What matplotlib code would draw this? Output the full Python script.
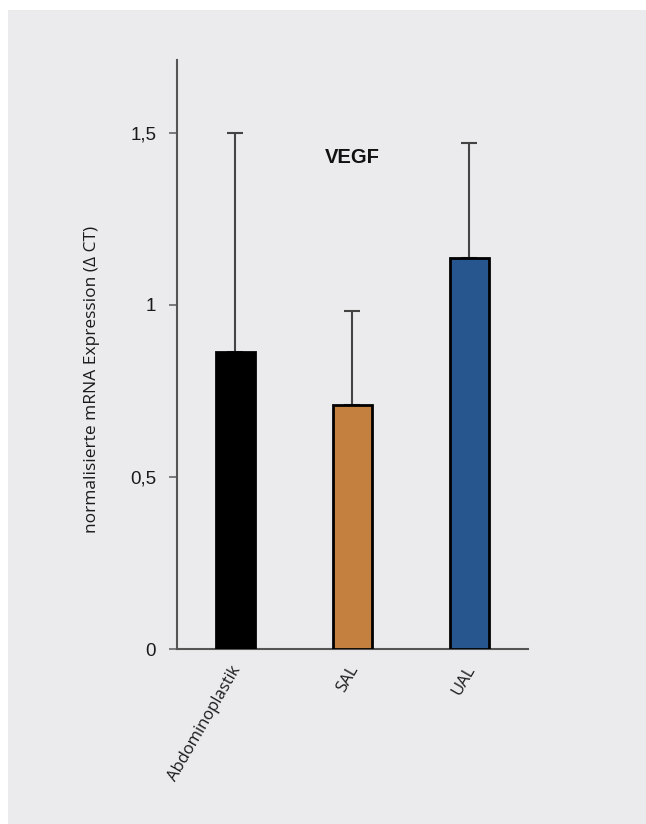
import matplotlib.pyplot as plt
import matplotlib.patches as patches
import matplotlib.transforms as mtransforms

categories = ["Abdominoplastik", "SAL", "UAL"]
means = [0.863, 0.709, 1.137]
upper_err = [0.637, 0.274, 0.334]
colors = ["#000000", "#c4803f", "#27568f"]
yticks = [0, 0.5, 1, 1.5]
ytick_labels = ["0", "0,5", "1", "1,5"]

W, H = 646, 824
fig = plt.figure(figsize=(W / 100, H / 100), dpi=100)
fig.patch.set_facecolor("white")
# grey panel behind the chart (thin white margin top/left)
fig.patches.append(patches.Rectangle((8 / W, 0), 1, 1 - 10 / H, transform=fig.transFigure,
                                     facecolor="#ebebed", edgecolor="none", zorder=-5))

ax = fig.add_axes([177 / W, 1 - 649 / H, (528 - 177) / W, (649 - 60) / H])
ax.patch.set_alpha(0)

x = list(range(len(categories)))
ax.bar(x, means, width=0.33, color=colors, edgecolor="black", linewidth=2.0, zorder=3)
ax.errorbar(x, means, yerr=[[0] * len(means), upper_err], fmt="none", ecolor="#444444",
            elinewidth=1.5, capsize=6, capthick=1.5, zorder=2)

ax.set_xlim(-0.5, 2.5)
ax.set_ylim(0, 1.712)
ax.set_yticks(yticks)
ax.set_yticklabels(ytick_labels, fontfamily="Liberation Sans", fontsize=13.5, color="#1a1a1a")
ax.tick_params(axis="y", length=6, width=1.2, color="#666666", pad=9)

ax.set_xticks(x)
ax.set_xticklabels(categories, rotation=60, ha="right", rotation_mode="anchor",
                   fontfamily="Open Sans", fontsize=12, color="#1a1a1a")
ax.tick_params(axis="x", length=0, pad=10)
shift = mtransforms.ScaledTranslation(-5 / 100, 0, fig.dpi_scale_trans)
for lbl in ax.get_xticklabels():
    lbl.set_transform(lbl.get_transform() + shift)

for side in ["top", "right"]:
    ax.spines[side].set_visible(False)
for side in ["left", "bottom"]:
    ax.spines[side].set_color("#555555")
    ax.spines[side].set_linewidth(1.5)

ax.set_ylabel("normalisierte mRNA Expression (\u0394 CT)", fontfamily="Open Sans",
              fontsize=12.5, color="#1a1a1a", va="center")
ax.yaxis.set_label_coords(-0.242, 0.457)

ax.text(1.0, 1.43, "VEGF", ha="center", va="center", fontfamily="Liberation Sans",
        fontweight="bold", fontsize=14.5, color="#111111")

plt.savefig("out.png", dpi=100)
